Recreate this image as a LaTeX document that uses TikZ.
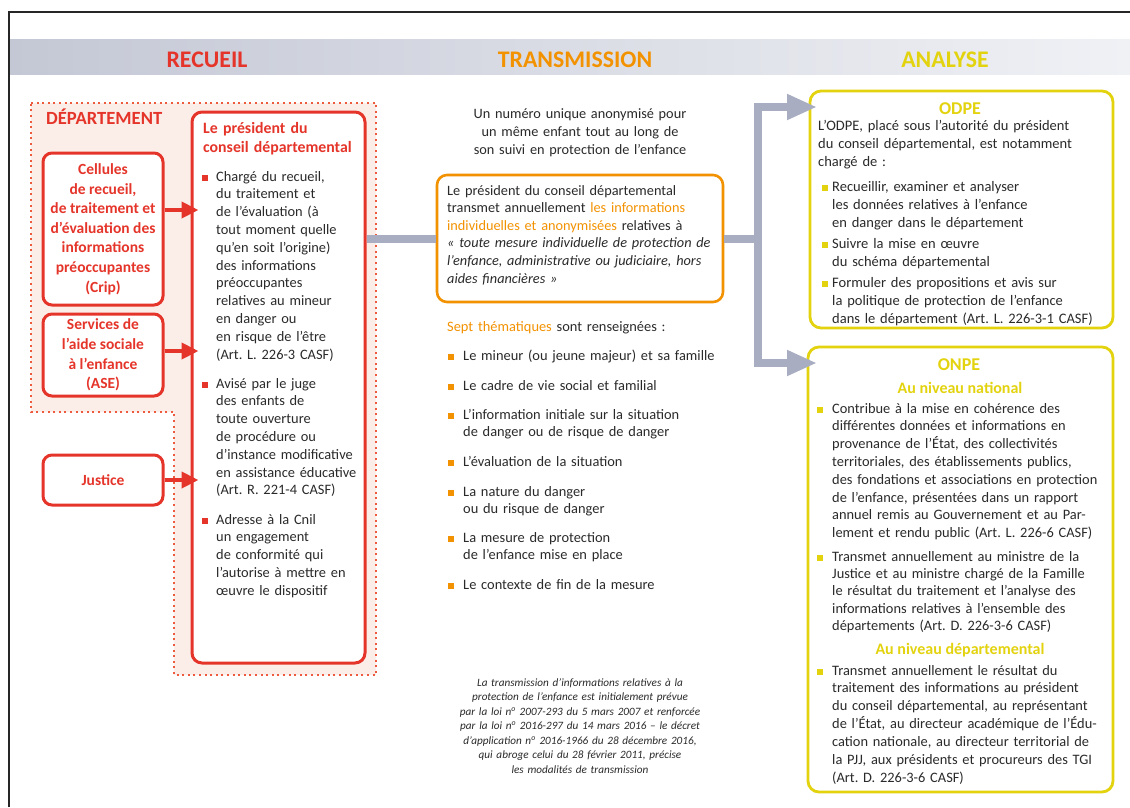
\documentclass[tikz,border=0pt]{standalone}
\usepackage{fontspec}
\setmainfont{Carlito}
\usetikzlibrary{arrows.meta}
\definecolor{cred}{HTML}{E5352A}
\definecolor{cdot}{HTML}{EE5A3E}
\definecolor{corange}{HTML}{F39200}
\definecolor{cyellow}{HTML}{E3D30F}
\definecolor{cgray}{HTML}{A8ADC2}
\definecolor{cpink}{HTML}{FBEDE8}
\definecolor{ink}{HTML}{2A2A2A}
\definecolor{bandL}{HTML}{C4C8D5}
\definecolor{bandR}{HTML}{F0F1F5}
\newcommand\bulsq[3]{\fill[#1] (#2,#3-2.8) rectangle ++(5.6,5.6);}
\frenchspacing
\begin{document}
\begin{tikzpicture}[x=1pt,y=-1pt,
  every node/.style={inner sep=0pt},
  body/.style={anchor=base west, text width=#1, align=left, text=ink, font=\fontsize{14.4}{17.8}\selectfont},
  bodyc/.style={anchor=base, text width=#1, align=center, text=ink, font=\fontsize{14.3}{18}\selectfont},
  redbox/.style={draw=cred, line width=3pt, rounded corners=9pt, fill=white, text=cred, align=center, font=\fontsize{15.5}{19.6}\selectfont\bfseries},
  orangebox/.style={draw=corange, line width=2.6pt, rounded corners=10pt, fill=white},
  yellowbox/.style={draw=cyellow, line width=2.8pt, rounded corners=11pt, fill=white},
  redarr/.style={draw=cred, line width=4pt, -{Triangle[length=17pt,width=16pt]}, shorten >=-8pt},
  grayline/.style={draw=cgray, line width=8pt},
  grayarr/.style={draw=cgray, line width=8pt, line join=miter, -{Triangle[length=30pt,width=24pt]}},
  head/.style={font=\fontsize{23.8}{26}\selectfont\bfseries},
  ytitle/.style={anchor=base, text=cyellow, font=\fontsize{18}{20}\selectfont\bfseries},
  ysub/.style={anchor=base, text=cyellow, font=\fontsize{16}{18}\selectfont\bfseries},
]
\fill[white] (0,0) rectangle (1130,807);
\useasboundingbox (0,0) rectangle (1130,807);

% header band and frame
\shade[left color=bandL, right color=bandR] (9,39) rectangle (1130,74);
\draw[line width=1.3pt, black!85] (9,807) -- (9,12) -- (1130,12);
\node[head, text=cred] (hrec) at (207,60) {RECUEIL};
\node[head, text=corange] (htra) at (575,60) {TRANSMISSION};
\node[head, text=cyellow] (hana) at (945,60) {ANALYSE};

% department region
\draw[cdot, line width=2pt, dash pattern=on 2pt off 3.6pt, fill=cpink]
  (31,103) -- (376,103) -- (376,675) -- (174,675) -- (174,412) -- (31,412) -- cycle;
\node[anchor=base west, text=cred, font=\fontsize{18.6}{20}\selectfont\bfseries] (dep) at (46,124) {DÉPARTEMENT};

% left boxes
\node[redbox, minimum width=120pt, minimum height=152pt] (crip) at (103,229)
  {Cellules\\de recueil,\\de traitement et\\d’évaluation des\\informations\\préoccupantes\\(Crip)};
\node[redbox, minimum width=120pt, minimum height=82pt] (ase) at (103,355)
  {Services de\\l’aide sociale\\à l’enfance\\(ASE)};
\node[redbox, minimum width=120pt, minimum height=50pt] (just) at (103,480) {Justice};

% president box
\node[draw=cred, line width=3pt, rounded corners=10pt, fill=white, minimum width=173pt, minimum height=551pt] (pres) at (278.5,387.5) {};
\node[anchor=base west, text width=160pt, align=left, text=cred, font=\fontsize{15.8}{19.5}\selectfont\bfseries] (prest) at (203,133)
  {Le président du\\conseil départemental};
\node[body=150pt] (p1) at (216,181) {Chargé du recueil,\\du traitement et\\de l’évaluation (à\\tout moment quelle\\qu’en soit l’origine)\\des informations\\préoccupantes\\relatives au mineur\\en danger ou\\en risque de l’être\\(Art. L. 226-3 CASF)};
\node[body=150pt] (p2) at (216,388) {Avisé par le juge\\des enfants de\\toute ouverture\\de procédure ou\\d’instance modificative\\en assistance éducative\\(Art. R. 221-4 CASF)};
\node[body=150pt] (p3) at (216,524) {Adresse à la Cnil\\un engagement\\de conformité qui\\l’autorise à mettre en\\œuvre le dispositif};
\bulsq{cred}{202}{178}
\bulsq{cred}{202}{385}
\bulsq{cred}{202}{521}

% red arrows
\coordinate (a1) at ([yshift=19pt]crip.east);
\coordinate (a2) at ([yshift=4pt]ase.east);
\coordinate (a3) at (just.east);
\draw[redarr] (a1) -- (a1 -| pres.west);
\draw[redarr] (a2) -- (a2 -| pres.west);
\draw[redarr] (a3) -- (a3 -| pres.west);

% middle column
\node[bodyc=280pt] (num) at (580,118) {Un numéro unique anonymisé pour\\un même enfant tout au long de\\son suivi en protection de l’enfance};
\node[orangebox, minimum width=286pt, minimum height=127pt] (orange) at (580,238.5) {};
\node[body=280pt, font=\fontsize{14.3}{17.6}\selectfont] (ot) at (447,195)
  {Le président du conseil départemental\\
   transmet annuellement \textcolor{corange}{les informations}\\
   \textcolor{corange}{individuelles et anonymisées} relatives à\\
   \textit{« toute mesure individuelle de protection de}\\
   \textit{l’enfance, administrative ou judiciaire, hors}\\
   \textit{aides financières »}};
\node[body=280pt] (sept) at (447,331) {\textcolor{corange}{Sept thématiques} sont renseignées :};
\node[body=260pt] (m1) at (463,360) {Le mineur (ou jeune majeur) et sa famille};
\node[body=260pt] (m2) at (463,390) {Le cadre de vie social et familial};
\node[body=260pt] (m3) at (463,419) {L’information initiale sur la situation\\de danger ou de risque de danger};
\node[body=260pt] (m4) at (463,466) {L’évaluation de la situation};
\node[body=260pt] (m5) at (463,496) {La nature du danger\\ou du risque de danger};
\node[body=260pt] (m6) at (463,542) {La mesure de protection\\de l’enfance mise en place};
\node[body=260pt] (m7) at (463,589) {Le contexte de fin de la mesure};
\bulsq{corange}{448}{357}
\bulsq{corange}{448}{387}
\bulsq{corange}{448}{416}
\bulsq{corange}{448}{463}
\bulsq{corange}{448}{493}
\bulsq{corange}{448}{539}
\bulsq{corange}{448}{586}
\node[anchor=base, text width=290pt, align=center, text=ink, font=\fontsize{11.2}{14.5}\selectfont\itshape] (note) at (580,686)
  {La transmission d’informations relatives à la\\
   protection de l’enfance est initialement prévue\\
   par la loi n\textsuperscript{o} 2007-293 du 5 mars 2007 et renforcée\\
   par la loi n\textsuperscript{o} 2016-297 du 14 mars 2016 – le décret\\
   d’application n\textsuperscript{o} 2016-1966 du 28 décembre 2016,\\
   qui abroge celui du 28 février 2011, précise\\
   les modalités de transmission};

% right column
\node[yellowbox, minimum width=303pt, minimum height=237pt] (odpe) at (961.5,209.5) {};
\node[yellowbox, minimum width=305pt, minimum height=445pt] (onpe) at (960.5,569.5) {};
\node[ytitle] (odpet) at (960,114) {ODPE};
\node[body=290pt, font=\fontsize{14.5}{18}\selectfont] (o0) at (818,130) {L’ODPE, placé sous l’autorité du président\\du conseil départemental, est notamment\\chargé de :};
\node[body=280pt, font=\fontsize{14.5}{18}\selectfont] (o1) at (832,191) {Recueillir, examiner et analyser\\les données relatives à l’enfance\\en danger dans le département};
\node[body=280pt, font=\fontsize{14.5}{18}\selectfont] (o2) at (832,248) {Suivre la mise en œuvre\\du schéma départemental};
\node[body=280pt, font=\fontsize{14.5}{18}\selectfont] (o3) at (832,287) {Formuler des propositions et avis sur\\la politique de protection de l’enfance\\dans le département (Art. L. 226-3-1 CASF)};
\bulsq{cyellow}{822}{188}
\bulsq{cyellow}{822}{245}
\bulsq{cyellow}{822}{284}

\node[ytitle] (onpet) at (959,370) {ONPE};
\node[ysub] (nat) at (960,393) {Au niveau national};
\node[body=280pt] (n1) at (832,413) {Contribue à la mise en cohérence des\\différentes données et informations en\\provenance de l’État, des collectivités\\territoriales, des établissements publics,\\des fondations et associations en protection\\de l’enfance, présentées dans un rapport\\annuel remis au Gouvernement et au Par-\\lement et rendu public (Art. L. 226-6 CASF)};
\node[body=280pt, font=\fontsize{14.4}{17.4}\selectfont] (n2) at (832,561) {Transmet annuellement au ministre de la\\Justice et au ministre chargé de la Famille\\le résultat du traitement et l’analyse des\\informations relatives à l’ensemble des\\départements (Art. D. 226-3-6 CASF)};
\node[ysub] (dept) at (960,654) {Au niveau départemental};
\node[body=280pt, font=\fontsize{14.4}{17.9}\selectfont] (n3) at (832,675) {Transmet annuellement le résultat du\\traitement des informations au président\\du conseil départemental, au représentant\\de l’État, au directeur académique de l’Édu-\\cation nationale, au directeur territorial de\\la PJJ, aux présidents et procureurs des TGI\\(Art. D. 226-3-6 CASF)};
\bulsq{cyellow}{817}{410}
\bulsq{cyellow}{817}{558}
\bulsq{cyellow}{817}{672}

% gray connectors
\coordinate (j) at (758,238.5);
\coordinate (tA) at (817,107);
\coordinate (tB) at (817,363);
\draw[grayline] (orange.west -| pres.east) -- (orange.west);
\draw[grayarr] (orange.east) -- (j) |- (tA);
\draw[grayarr] (j) |- (tB);
\end{tikzpicture}
\end{document}
